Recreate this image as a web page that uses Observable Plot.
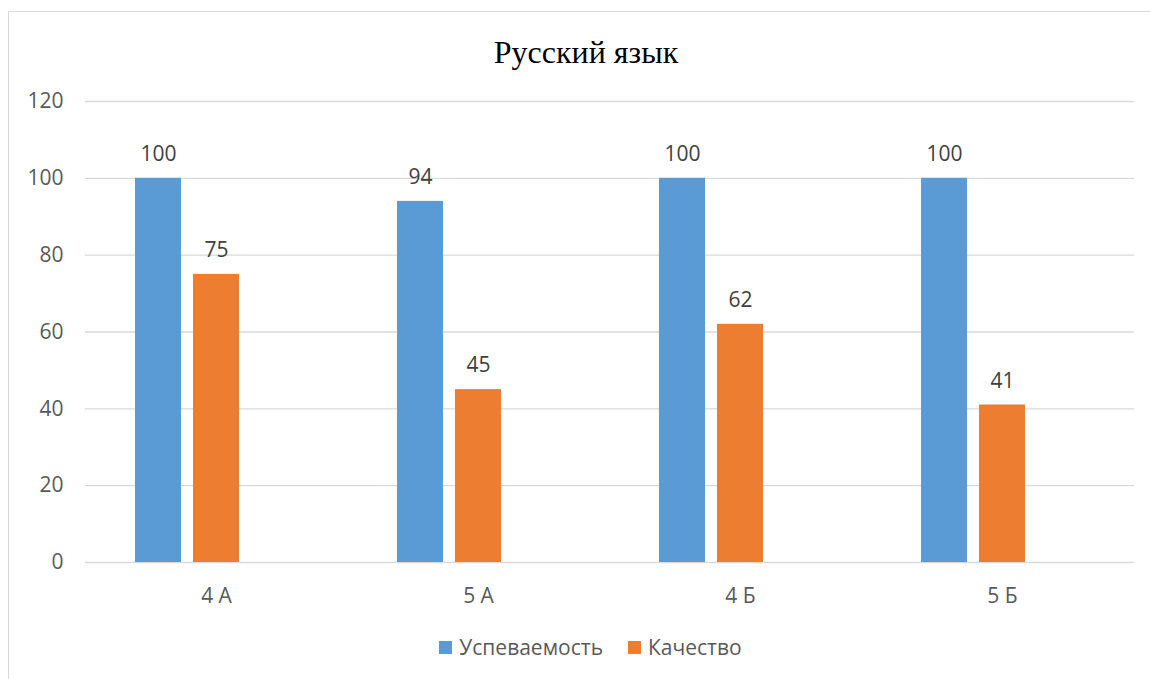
<!DOCTYPE html>
<html><head><meta charset="utf-8">
<script src="https://cdn.jsdelivr.net/npm/d3@7"></script>
<script src="https://cdn.jsdelivr.net/npm/@observablehq/plot@0.6"></script>
<style>
body{margin:0;background:#fff;}
#wrap{position:relative;width:1150px;height:679px;overflow:hidden;font-family:"Open Sans",sans-serif;background:#fff;}
#frame{position:absolute;left:8px;top:11px;width:1200px;height:700px;border:1px solid #d9d9d9;}
#title{position:absolute;top:32px;left:0;width:1172px;text-align:center;font-family:"Liberation Serif",serif;font-size:32px;line-height:40px;color:#000;}
#chart{position:absolute;left:0;top:80px;}
#legend{position:absolute;top:634px;left:0;width:1181px;display:flex;justify-content:center;gap:25px;font-size:21px;color:#595959;line-height:26px;}
#legend .item{display:flex;align-items:center;gap:7px;}
#legend .sw{width:13px;height:13px;display:inline-block;}
</style>
</head><body>
<div id="wrap">
  <div id="frame"></div>
  <div id="title">Русский язык</div>
  <div id="chart"></div>
  <div id="legend"></div>
</div>
<script>
const classes = ["4 А", "5 А", "4 Б", "5 Б"];
const seriesNames = ["Успеваемость", "Качество"];
const uspevaemost = [100, 94, 100, 100];
const kachestvo = [75, 45, 62, 41];
const yTicks = [0, 20, 40, 60, 80, 100, 120];
const colors = ["#5B9BD5", "#ED7D31"];

const data = [];
classes.forEach((c, i) => {
  data.push({cls: c, series: seriesNames[0], value: uspevaemost[i]});
  data.push({cls: c, series: seriesNames[1], value: kachestvo[i]});
});

const W = 1150, ML = 84, MR = 17;
const PI = 0.382, PO = 0.191;
const innerW = W - ML - MR;
const step = innerW / (classes.length - PI + 2 * PO);
const off = PO * step; // offset of first facet from the plot's left edge

const chart = Plot.plot({
  width: W,
  height: 540,
  marginTop: 21,
  marginBottom: 58,
  marginLeft: ML,
  marginRight: MR,
  style: {fontFamily: "'Open Sans', sans-serif", background: "transparent"},
  fx: {domain: classes, paddingInner: PI, paddingOuter: PO, label: null},
  x: {domain: [...seriesNames, "\u200b"], paddingInner: 0.207, paddingOuter: 0, axis: null},
  y: {domain: [0, 120], axis: null},
  color: {domain: seriesNames, range: colors},
  marks: [
    Plot.axisY(yTicks, {tickSize: -innerW, dx: -off, tickFormat: () => "", stroke: "#d9d9d9", strokeWidth: 1.3, strokeOpacity: 1, label: null}),
    Plot.axisY(yTicks, {tickSize: 0, tickPadding: 22 + off, fontSize: 21, color: "#595959", label: null}),
    Plot.axisFx({anchor: "bottom", tickSize: 0, tickPadding: 26, fontSize: 21, color: "#595959", label: null}),
    Plot.barY(data, {fx: "cls", x: "series", y: "value", fill: "series"}),
    Plot.text(data, {fx: "cls", x: "series", y: "value", text: d => String(d.value), dy: -24, fontSize: 21, fill: "#404040"})
  ]
});
document.getElementById("chart").appendChild(chart);

const legend = document.getElementById("legend");
seriesNames.forEach((s, i) => {
  const item = document.createElement("div");
  item.className = "item";
  const sw = document.createElement("span");
  sw.className = "sw";
  sw.style.background = colors[i];
  const t = document.createElement("span");
  t.textContent = s;
  item.appendChild(sw);
  item.appendChild(t);
  legend.appendChild(item);
});
</script>
</body></html>
